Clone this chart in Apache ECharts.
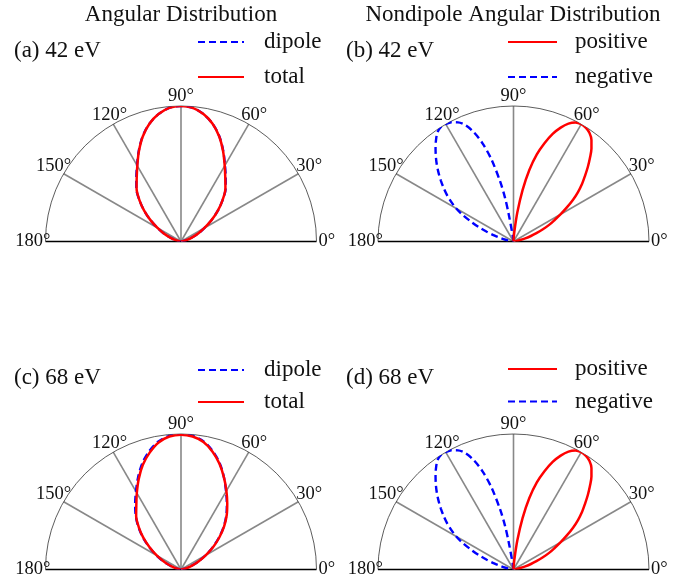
<!DOCTYPE html>
<html><head><meta charset="utf-8">
<script src="https://cdn.jsdelivr.net/npm/echarts@6/dist/echarts.min.js"></script>
<style>html,body{margin:0;padding:0;background:#fff}#c{width:688px;height:582px}</style>
</head><body><div id="c"></div>
<script>
// ---- data ----
const tickAngles = [0, 30, 60, 90, 120, 150, 180];
const anglesSym = [0,5,10,15,20,25,30,35,40,45,50,55,60,65,70,75,80,85,90,95,100,105,110,115,120,125,130,135,140,145,150,155,160,165,170,175,180];
const dipoleA = [0,0.005,0.02,0.045,0.085,0.14,0.20,0.275,0.355,0.436,0.513,0.575,0.649,0.738,0.827,0.90,0.955,0.99,1.0,0.99,0.955,0.90,0.827,0.738,0.649,0.575,0.513,0.436,0.355,0.275,0.20,0.14,0.085,0.045,0.02,0.005,0];
const totalA  = [0,0.005,0.02,0.045,0.085,0.14,0.20,0.275,0.355,0.435,0.51,0.57,0.645,0.735,0.825,0.90,0.955,0.99,1.0,0.99,0.955,0.90,0.825,0.735,0.645,0.57,0.51,0.435,0.355,0.275,0.20,0.14,0.085,0.045,0.02,0.005,0];
const dipoleC = [0,0.005,0.02,0.05,0.09,0.145,0.21,0.285,0.365,0.445,0.52,0.59,0.665,0.75,0.835,0.905,0.96,0.99,1.0,0.99,0.96,0.905,0.835,0.75,0.665,0.59,0.52,0.445,0.365,0.285,0.21,0.145,0.09,0.05,0.02,0.005,0];
const totalC  = [0,0.005,0.02,0.05,0.09,0.145,0.21,0.29,0.37,0.45,0.525,0.595,0.67,0.75,0.83,0.90,0.955,0.985,0.995,0.985,0.952,0.893,0.823,0.738,0.652,0.575,0.515,0.44,0.362,0.28,0.205,0.14,0.087,0.047,0.02,0.005,0];

const anglesPos = [0,5,10,12.5,15,17.5,20,22.5,25,27.5,30,32.5,35,37.5,40,42.5,45,47.5,50,52.5,55,57.5,60,62.5,65,67.5,70,72.5,75,77.5,80,82.5,85,87.5,90];
const positiveB = [0,0.005,0.025,0.05,0.09,0.135,0.18,0.235,0.29,0.34,0.40,0.465,0.535,0.60,0.66,0.715,0.775,0.835,0.895,0.945,0.978,0.995,1.0,0.99,0.96,0.91,0.845,0.76,0.665,0.54,0.385,0.215,0.075,0.015,0];
const positiveD = [0,0.005,0.025,0.05,0.09,0.135,0.18,0.235,0.29,0.34,0.40,0.465,0.535,0.60,0.66,0.715,0.775,0.835,0.895,0.945,0.978,0.995,1.0,0.99,0.96,0.91,0.845,0.76,0.665,0.54,0.385,0.215,0.075,0.015,0];

const anglesNeg = [90,95,97.5,100,101,102.5,105,107.5,110,112.5,115,117.5,120,122.5,125,127.5,130,132.5,135,137.5,140,142.5,145,147.5,150,152.5,155,157.5,160,162.5,165,167.5,170,175,180];
const negativeB = [0,0.01,0.04,0.21,0.33,0.45,0.625,0.76,0.86,0.93,0.97,0.992,1.0,1.0,0.98,0.94,0.895,0.848,0.80,0.75,0.70,0.65,0.60,0.545,0.49,0.42,0.345,0.278,0.21,0.15,0.095,0.06,0.035,0.008,0];
const negativeD = [0,0.01,0.04,0.21,0.33,0.45,0.625,0.76,0.86,0.93,0.97,0.992,1.0,1.0,0.98,0.94,0.895,0.848,0.80,0.75,0.70,0.65,0.60,0.545,0.49,0.42,0.345,0.278,0.21,0.15,0.095,0.06,0.035,0.008,0];

const columnTitles = ['Angular Distribution', 'Nondipole Angular Distribution'];
const panelLabels = ['(a) 42 eV', '(b) 42 eV', '(c) 68 eV', '(d) 68 eV'];
const legendLeft = ['dipole', 'total'];
const legendRight = ['positive', 'negative'];

// ---- layout / style ----
const SERIF = "'Liberation Serif', 'Times New Roman', serif";
const TXT = '#111';
const R = 135.5;
const centers = [[181, 241.5], [513.5, 241.5], [181, 569.5], [513.5, 569.5]];
const RED = '#ff0000', BLUE = '#0000ff';

const labelPad = {
  0:   [0, 0, 0, 32],
  30:  [0, 0, 13, 24],
  60:  [0, 0, 25.5, 7.5],
  90:  [0, 0, 30.5, 0],
  120: [0, 1, 25.5, 0],
  150: [0, 18.5, 13, 0],
  180: [0, 25, 0, 0]
};
const rich = {};
tickAngles.forEach(a => {
  rich['t' + a] = { padding: labelPad[a], fontSize: 18.5, fontFamily: SERIF, color: TXT };
});

function pairs(angles, radii) { return radii.map((r, i) => [r, angles[i]]); }

const polar = centers.map(c => ({ center: c, radius: R }));
const angleAxis = centers.map((c, i) => ({
  polarIndex: i, type: 'value', min: 0, max: 180, interval: 30,
  startAngle: 0, endAngle: 180, clockwise: false,
  axisLine: { show: true, lineStyle: { color: '#333', width: 0.8 } },
  axisTick: { show: false },
  axisLabel: {
    show: true, margin: -30,
    formatter: v => '{t' + v + '|' + v + '°}',
    rich: rich, fontSize: 18.5, fontFamily: SERIF, color: TXT
  },
  splitLine: { show: true, lineStyle: { color: ['#000', '#888', '#888', '#888', '#888', '#888', '#000'], width: 1.6 } }
}));
const radiusAxis = centers.map((c, i) => ({
  polarIndex: i, type: 'value', min: 0, max: 1,
  axisLine: { show: false }, axisTick: { show: false }, axisLabel: { show: false }, splitLine: { show: false }
}));

function lineSeries(name, idx, angles, radii, color, dashed) {
  return {
    type: 'line', name: name, coordinateSystem: 'polar', polarIndex: idx,
    data: pairs(angles, radii), symbol: 'none', showSymbol: false, smooth: 0.3,
    lineStyle: { color: color, width: dashed ? 2.4 : 2.5, type: dashed ? [7, 4] : 'solid' },
    itemStyle: { color: color }, z: dashed ? 3 : 4, silent: true
  };
}

const series = [
  lineSeries('dipole', 0, anglesSym, dipoleA, BLUE, true),
  lineSeries('total', 0, anglesSym, totalA, RED, false),
  lineSeries('positive', 1, anglesPos, positiveB, RED, false),
  lineSeries('negative', 1, anglesNeg, negativeB, BLUE, true),
  lineSeries('dipole', 2, anglesSym, dipoleC, BLUE, true),
  lineSeries('total', 2, anglesSym, totalC, RED, false),
  lineSeries('positive', 3, anglesPos, positiveD, RED, false),
  lineSeries('negative', 3, anglesNeg, negativeD, BLUE, true)
];

const titleStyle = { fontSize: 23, fontWeight: 'normal', fontFamily: SERIF, color: TXT };
const title = [
  { text: columnTitles[0], left: 181, top: 3, textAlign: 'center', padding: 0, textStyle: titleStyle },
  { text: columnTitles[1], left: 513, top: 3, textAlign: 'center', padding: 0, textStyle: titleStyle },
  { text: panelLabels[0], left: 14, top: 39.5, padding: 0, textStyle: titleStyle },
  { text: panelLabels[1], left: 346, top: 39.5, padding: 0, textStyle: titleStyle },
  { text: panelLabels[2], left: 14, top: 366.5, padding: 0, textStyle: titleStyle },
  { text: panelLabels[3], left: 346, top: 366.5, padding: 0, textStyle: titleStyle }
];

function legend(names, left, top, w, gap, padL) {
  return {
    data: names, left: left, top: top, orient: 'vertical', padding: 0,
    itemWidth: w, itemHeight: 14, itemGap: gap, selectedMode: false,
    itemStyle: { opacity: 0 },
    textStyle: { fontSize: 23, lineHeight: 23, fontFamily: SERIF, color: TXT, padding: [0, 0, 0, padL] }
  };
}

const option = {
  animation: false,
  backgroundColor: '#fff',
  title: title,
  legend: [
    legend(legendLeft, 197, 30.5, 46, 12, 15),
    legend(legendRight, 507, 30.5, 49, 12, 13),
    legend(legendLeft, 197, 358.5, 46, 9, 15),
    legend(legendRight, 507, 357.5, 49, 9.5, 13)
  ],
  polar: polar,
  angleAxis: angleAxis,
  radiusAxis: radiusAxis,
  series: series
};

const chart = echarts.init(document.getElementById('c'), null, { renderer: 'canvas' });
chart.setOption(option);
</script>
</body></html>
